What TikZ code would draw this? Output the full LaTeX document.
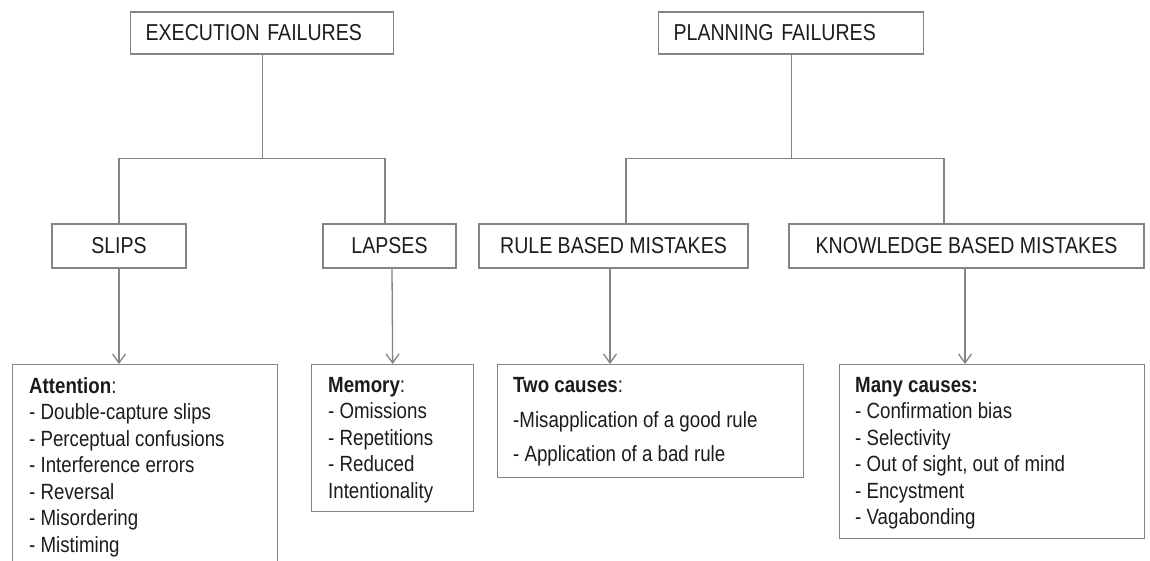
\documentclass[tikz,border=0pt]{standalone}
\usepackage{fontspec}
\setmainfont[FakeStretch=0.85]{Liberation Sans}
\usetikzlibrary{arrows.meta,positioning,calc}
\definecolor{linegray}{RGB}{132,132,132}
\definecolor{inkdark}{RGB}{28,28,28}

\begin{document}
\begin{tikzpicture}[x=1pt,y=-1pt,
  wire/.style={draw=linegray, line width=1.3pt},
  arr/.style={wire, -{Straight Barb[length=9pt,width=13pt]}},
  headbox/.style={wire, anchor=west, minimum height=42pt, inner xsep=15pt, text width=#1, align=left, font=\fontsize{23}{26}\selectfont, text=inkdark},
  midbox/.style={wire, minimum width=#1, minimum height=44pt, font=\fontsize{23}{26}\selectfont, text=inkdark},
  listbox/.style={wire, anchor=north west, minimum width=#1, inner sep=0pt},
  listtext/.style={anchor=north west, inner sep=0pt, align=left, font=\fontsize{22}{26.5}\selectfont, text=inkdark}]
  \path[use as bounding box, fill=white] (0,0) rectangle (1150,560);
  \clip (0,0) rectangle (1150,560);

  \node[headbox=233pt] (exec) at (130,33) {EXECUTION FAILURES};
  \node[headbox=235pt] (plan) at (658,33) {PLANNING FAILURES};

  \node[midbox=134pt] (slips) at (119,246) {SLIPS};
  \node[midbox=133pt] (lapses) at (389.5,246) {LAPSES};
  \node[midbox=269pt] (rule) at (613.5,246) {RULE BASED MISTAKES};
  \node[midbox=355pt] (know) at (966.5,246) {KNOWLEDGE BASED MISTAKES};

  \node[listbox=265pt, minimum height=215pt] (attbox) at (12,364) {};
  \node[listbox=162pt, minimum height=147pt] (membox) at (311,364) {};
  \node[listbox=306pt, minimum height=113pt] (twobox) at (497,364) {};
  \node[listbox=305pt, minimum height=174pt] (manybox) at (839,364) {};

  \node[listtext, below right=13pt and 17pt of attbox.north west] (attlist)
    {\textbf{Attention}:\\- Double-capture slips\\- Perceptual confusions\\- Interference errors\\- Reversal\\- Misordering\\- Mistiming};
  \node[listtext, below right=13pt and 17pt of membox.north west] (memlist)
    {\textbf{Memory}:\\- Omissions\\- Repetitions\\- Reduced\\Intentionality};
  \node[listtext, below right=13pt and 16pt of twobox.north west] (twolist)
    {\textbf{Two causes}:\\[8.5pt]-Misapplication of a good rule\\[8pt]- Application of a bad rule};
  \node[listtext, below right=13pt and 16pt of manybox.north west] (manylist)
    {\textbf{Many causes:}\\- Confirmation bias\\- Selectivity\\- Out of sight, out of mind\\- Encystment\\- Vagabonding};

  \coordinate (ej) at ($(exec.south)+(0,104)$);
  \coordinate (pj) at ($(plan.south)+(0,104)$);
  \draw[wire] (exec.south) -- (ej) -| (slips.north);
  \draw[wire] (ej) -| ([xshift=-4.5pt]lapses.north);
  \draw[wire] (plan.south) -- (pj) -| ([xshift=12.5pt]rule.north);
  \draw[wire] (pj) -| ([xshift=-22.5pt]know.north);

  \draw[arr] (slips.south) -- (slips.south |- attbox.north);
  \draw[arr] ([xshift=2.5pt]lapses.south) -- (membox.north);
  \draw[arr] ([xshift=-3.5pt]rule.south) -- ([xshift=-3.5pt]rule.south |- twobox.north);
  \draw[arr] ([xshift=-1.5pt]know.south) -- ([xshift=-1.5pt]know.south |- manybox.north);
\end{tikzpicture}
\end{document}
